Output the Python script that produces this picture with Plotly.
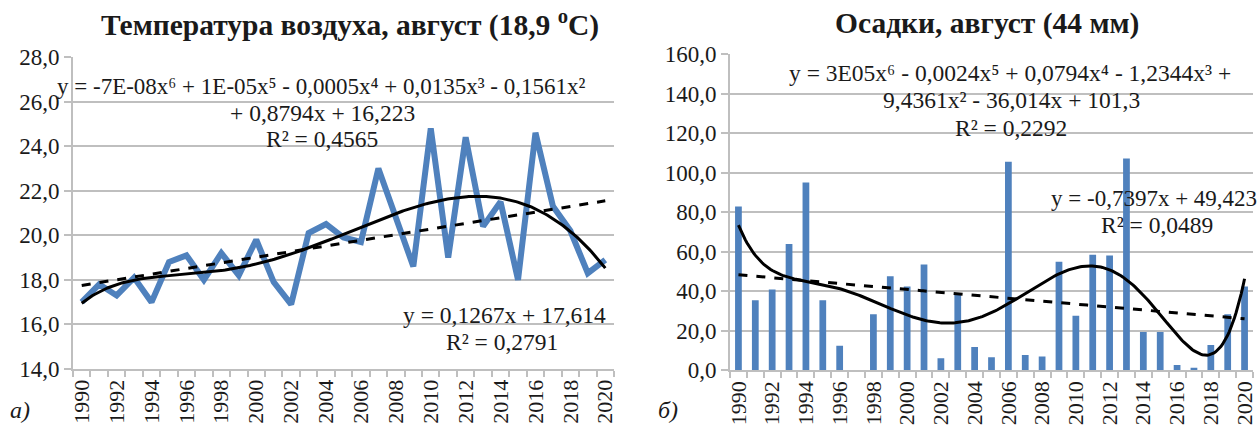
import numpy as np
import plotly.graph_objects as go

years = list(range(1990, 2021))
temp = [17.0, 17.8, 17.3, 18.1, 17.0, 18.8, 19.1, 18.0, 19.2, 18.2, 19.8, 17.9, 16.9,
        20.1, 20.5, 19.9, 19.7, 23.0, 20.8, 18.6, 24.8, 19.0, 24.4, 20.4, 21.5, 18.0,
        24.6, 21.3, 20.2, 18.3, 18.9]
precip = [83.0, 35.5, 41.0, 64.0, 95.1, 35.5, 12.5, 0.0, 28.4, 47.6, 42.5, 53.6, 6.1,
          38.5, 11.9, 6.6, 105.6, 7.8, 7.0, 55.0, 27.6, 58.5, 58.1, 107.2, 19.5, 19.5,
          2.7, 1.4, 12.8, 28.4, 42.5]
tick_years = list(range(1990, 2021, 2))

title_t = "<b>Температура воздуха, август (18,9 <sup>o</sup>С)</b>"
title_p = "<b>Осадки, август (44 мм)</b>"

BLUE = "#4F81BD"
GRID = "#BFBFBF"
FONT = "Liberation Serif"
TXT = "#1a1a1a"

idx = np.arange(1, len(years) + 1)
xf = np.linspace(1, len(years), 300)
yrs_f = 1989 + xf

def fits(vals):
    lin = np.polyfit(idx, vals, 1)
    poly = np.polyfit(idx, vals, 6)
    return np.polyval(lin, xf), np.polyval(poly, xf)

t_lin, t_poly = fits(temp)
p_lin, p_poly = fits(precip)

fig = go.Figure()
fig.add_trace(go.Scatter(x=years, y=temp, mode="lines", line=dict(color=BLUE, width=6),
                         xaxis="x", yaxis="y", showlegend=False))
fig.add_trace(go.Scatter(x=yrs_f, y=t_poly, mode="lines", line=dict(color="black", width=3),
                         xaxis="x", yaxis="y", showlegend=False))
fig.add_trace(go.Scatter(x=yrs_f, y=t_lin, mode="lines", line=dict(color="black", width=3, dash="dash"),
                         xaxis="x", yaxis="y", showlegend=False))

fig.add_trace(go.Bar(x=years, y=precip, marker=dict(color=BLUE, line=dict(width=0)), width=0.4,
                     xaxis="x2", yaxis="y2", showlegend=False))
fig.add_trace(go.Scatter(x=yrs_f, y=p_poly, mode="lines", line=dict(color="black", width=3),
                         xaxis="x2", yaxis="y2", showlegend=False))
fig.add_trace(go.Scatter(x=yrs_f, y=p_lin, mode="lines", line=dict(color="black", width=3, dash="dash"),
                         xaxis="x2", yaxis="y2", showlegend=False))

W, H = 1258, 434
def px(x):
    return x / W
def py(y):
    return 1 - y / H

xcommon = dict(range=[1989.5, 2020.5], tickmode="array", tickvals=tick_years,
               ticktext=[str(y) for y in tick_years], tickangle=-90, ticks="",
               showgrid=False, showline=True, linecolor=GRID, linewidth=2,
               tickfont=dict(family=FONT, size=22, color=TXT),
               minor=dict(ticks="outside", tick0=1989.5, dtick=1, ticklen=6,
                          tickcolor=GRID, tickwidth=2, showgrid=False),
               zeroline=False, fixedrange=True, automargin=False)
ycommon = dict(showgrid=True, gridcolor=GRID, gridwidth=2, showline=True, linecolor=GRID,
               linewidth=2, ticks="outside", ticklen=7, tickcolor=GRID, tickwidth=2,
               tickfont=dict(family=FONT, size=23, color=TXT), tickformat=".1f",
               zeroline=False, fixedrange=True, automargin=False)

fig.update_layout(
    width=W, height=H, margin=dict(l=0, r=0, t=0, b=0, pad=0),
    paper_bgcolor="white", plot_bgcolor="white", separators=", ",
    bargap=0.6,
    xaxis=dict(domain=[px(73), px(614)], anchor="y", **xcommon),
    yaxis=dict(domain=[py(369), py(57)], range=[14, 28], dtick=2, anchor="x", **ycommon),
    xaxis2=dict(domain=[px(730), px(1253)], anchor="y2", **xcommon),
    yaxis2=dict(domain=[py(370.4), py(54.3)], range=[0, 160], dtick=20, anchor="x2", **ycommon),
)

def ann(text, x, y, size=23.5, italic=False):
    t = f"<i>{text}</i>" if italic else text
    fig.add_annotation(text=t, x=px(x), y=py(y), xref="paper", yref="paper",
                       xanchor="center", yanchor="middle", showarrow=False,
                       font=dict(family=FONT, size=size, color=TXT))

ann(title_t, 350, 24, size=29.5)
ann(title_p, 987, 24, size=29.5)

ann("y = -7E-08x⁶ + 1E-05x⁵ - 0,0005x⁴ + 0,0135x³ - 0,1561x²", 321, 87, size=23)
ann("+ 0,8794x + 16,223", 322, 113)
ann("R² = 0,4565", 322, 139)
ann("y = 0,1267x + 17,614", 504, 315)
ann("R² = 0,2791", 502, 342)

ann("y = 3E05x⁶ - 0,0024x⁵ + 0,0794x⁴ - 1,2344x³ +", 1010, 73)
ann("9,4361x² - 36,014x + 101,3", 1011, 100)
ann("R² = 0,2292", 1011, 128)
ann("y = -0,7397x + 49,423", 1154, 198, size=23)
ann("R² = 0,0489", 1157, 225)

ann("а)", 20, 410, size=24, italic=True)
ann("б)", 668, 410, size=24, italic=True)

fig.write_html("out.html", config={"displayModeBar": False},
               post_script="document.body.style.margin='0';document.body.style.padding='0';"
                           "document.documentElement.style.margin='0';")
